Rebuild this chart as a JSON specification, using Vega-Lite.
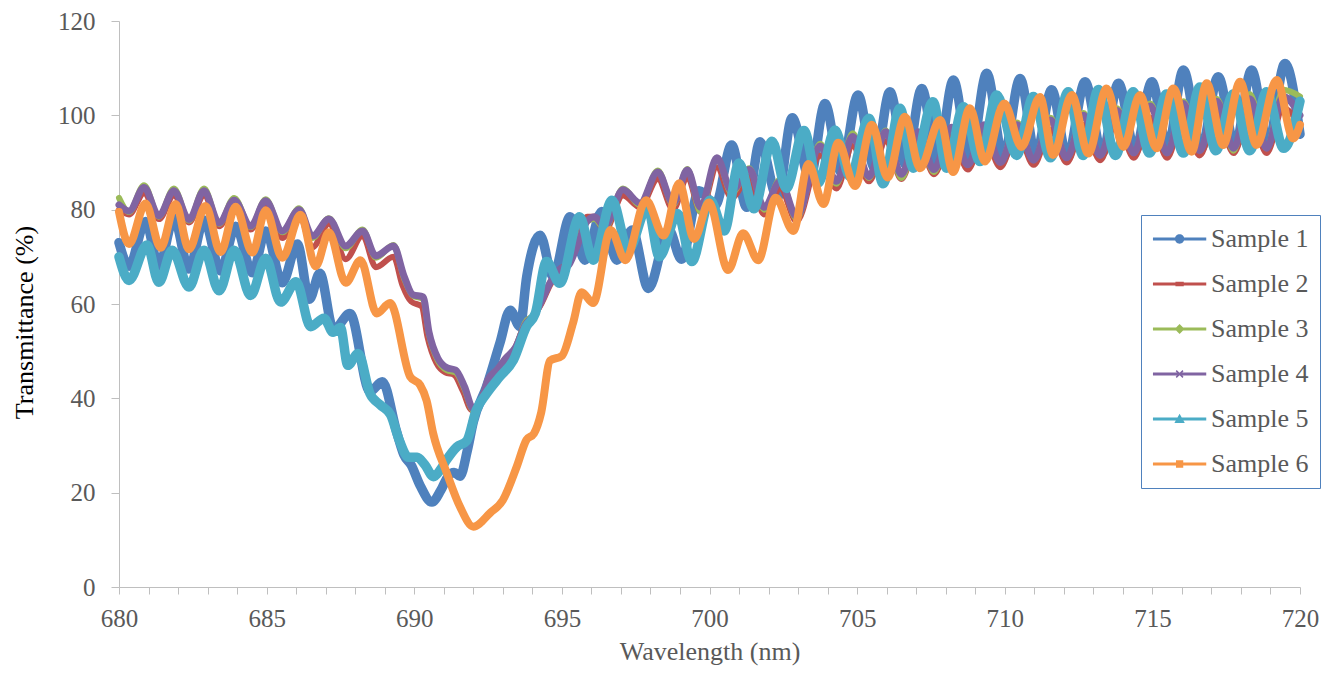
{
"$schema": "https://vega.github.io/schema/vega-lite/v6.json",
"width": 1181, "height": 566, "autosize": "none",
"padding": {"left": 119, "top": 21, "right": 34, "bottom": 88},
"background": "white",
"config": {"view": {"stroke": null},
 "axis": {"labelFont": "Liberation Serif", "titleFont": "Liberation Serif", "labelColor": "#595959", "titleColor": "#595959", "labelFontSize": 25, "titleFontSize": 26, "titleFontWeight": "normal", "domainColor": "#BFBFBF", "tickColor": "#BFBFBF", "grid": false},
 "legend": {"labelFont": "Liberation Serif", "labelFontSize": 26, "labelColor": "#595959"}},
"data": {"values": [
{"s":"Sample 1","w":680,"t":73},{"s":"Sample 1","w":680.34,"t":68},{"s":"Sample 1","w":680.9,"t":77.5},{"s":"Sample 1","w":681.35,"t":68},{"s":"Sample 1","w":681.86,"t":78.2},{"s":"Sample 1","w":682.37,"t":67.4},{"s":"Sample 1","w":682.88,"t":77.8},{"s":"Sample 1","w":683.44,"t":67},{"s":"Sample 1","w":683.95,"t":76.5},{"s":"Sample 1","w":684.52,"t":66.6},{"s":"Sample 1","w":684.97,"t":75.5},{"s":"Sample 1","w":685.53,"t":64.5},{"s":"Sample 1","w":686.04,"t":72.7},{"s":"Sample 1","w":686.45,"t":61},{"s":"Sample 1","w":686.8,"t":66.5},{"s":"Sample 1","w":687.27,"t":54.5},{"s":"Sample 1","w":687.82,"t":58},{"s":"Sample 1","w":688.5,"t":41.5},{"s":"Sample 1","w":688.92,"t":43.5},{"s":"Sample 1","w":689.4,"t":33},{"s":"Sample 1","w":689.65,"t":28},{"s":"Sample 1","w":689.9,"t":25.8},{"s":"Sample 1","w":690.2,"t":21.5},{"s":"Sample 1","w":690.6,"t":18},{"s":"Sample 1","w":690.9,"t":20.5},{"s":"Sample 1","w":691.15,"t":23.5},{"s":"Sample 1","w":691.35,"t":24.3},{"s":"Sample 1","w":691.55,"t":23.5},{"s":"Sample 1","w":691.8,"t":29},{"s":"Sample 1","w":692.0,"t":35},{"s":"Sample 1","w":692.45,"t":42.5},{"s":"Sample 1","w":692.9,"t":51.7},{"s":"Sample 1","w":693.25,"t":58.7},{"s":"Sample 1","w":693.58,"t":55.2},{"s":"Sample 1","w":693.81,"t":65.8},{"s":"Sample 1","w":694.26,"t":74.6},{"s":"Sample 1","w":694.7,"t":65.8},{"s":"Sample 1","w":695.28,"t":78.5},{"s":"Sample 1","w":695.78,"t":69.3},{"s":"Sample 1","w":696.35,"t":79.6},{"s":"Sample 1","w":696.86,"t":69.3},{"s":"Sample 1","w":697.38,"t":75.7},{"s":"Sample 1","w":697.93,"t":63.3},{"s":"Sample 1","w":698.62,"t":75.7},{"s":"Sample 1","w":699.05,"t":69.5},{"s":"Sample 1","w":699.65,"t":84},{"s":"Sample 1","w":700.2,"t":81},{"s":"Sample 1","w":700.75,"t":93.7},{"s":"Sample 1","w":701.26,"t":80.5},{"s":"Sample 1","w":701.71,"t":94.4},{"s":"Sample 1","w":702.3,"t":82.5},{"s":"Sample 1","w":702.8,"t":99.5},{"s":"Sample 1","w":703.4,"t":86.5},{"s":"Sample 1","w":703.91,"t":102.5},{"s":"Sample 1","w":704.45,"t":88},{"s":"Sample 1","w":705.03,"t":104.3},{"s":"Sample 1","w":705.58,"t":89},{"s":"Sample 1","w":706.11,"t":105},{"s":"Sample 1","w":706.65,"t":89.5},{"s":"Sample 1","w":707.19,"t":105.7},{"s":"Sample 1","w":707.72,"t":90},{"s":"Sample 1","w":708.26,"t":107.5},{"s":"Sample 1","w":708.82,"t":90.5},{"s":"Sample 1","w":709.39,"t":108.9},{"s":"Sample 1","w":709.95,"t":91},{"s":"Sample 1","w":710.52,"t":107.8},{"s":"Sample 1","w":711.05,"t":91.5},{"s":"Sample 1","w":711.59,"t":105.4},{"s":"Sample 1","w":712.12,"t":91},{"s":"Sample 1","w":712.72,"t":107.1},{"s":"Sample 1","w":713.3,"t":92},{"s":"Sample 1","w":713.85,"t":106.8},{"s":"Sample 1","w":714.42,"t":92.5},{"s":"Sample 1","w":714.98,"t":107.1},{"s":"Sample 1","w":715.52,"t":93},{"s":"Sample 1","w":716.05,"t":109.6},{"s":"Sample 1","w":716.65,"t":93},{"s":"Sample 1","w":717.23,"t":108.2},{"s":"Sample 1","w":717.8,"t":93.5},{"s":"Sample 1","w":718.36,"t":109.6},{"s":"Sample 1","w":718.92,"t":94},{"s":"Sample 1","w":719.49,"t":111},{"s":"Sample 1","w":720,"t":96},

{"s":"Sample 2","w":680,"t":80},{"s":"Sample 2","w":680.34,"t":79},{"s":"Sample 2","w":680.85,"t":83.5},{"s":"Sample 2","w":681.35,"t":78},{"s":"Sample 2","w":681.86,"t":83},{"s":"Sample 2","w":682.37,"t":77.3},{"s":"Sample 2","w":682.88,"t":83},{"s":"Sample 2","w":683.39,"t":76.5},{"s":"Sample 2","w":683.9,"t":81},{"s":"Sample 2","w":684.46,"t":75.8},{"s":"Sample 2","w":684.97,"t":80.8},{"s":"Sample 2","w":685.53,"t":74},{"s":"Sample 2","w":686.1,"t":79},{"s":"Sample 2","w":686.55,"t":72},{"s":"Sample 2","w":687.11,"t":77},{"s":"Sample 2","w":687.68,"t":69.5},{"s":"Sample 2","w":688.25,"t":74.5},{"s":"Sample 2","w":688.7,"t":67.8},{"s":"Sample 2","w":689.3,"t":70},{"s":"Sample 2","w":689.6,"t":64},{"s":"Sample 2","w":689.9,"t":60.5},{"s":"Sample 2","w":690.25,"t":59.5},{"s":"Sample 2","w":690.45,"t":53},{"s":"Sample 2","w":690.75,"t":47.5},{"s":"Sample 2","w":691.05,"t":45.5},{"s":"Sample 2","w":691.35,"t":45},{"s":"Sample 2","w":691.65,"t":41.5},{"s":"Sample 2","w":691.95,"t":37.5},{"s":"Sample 2","w":692.25,"t":39.5},{"s":"Sample 2","w":692.45,"t":43},{"s":"Sample 2","w":692.75,"t":45.5},{"s":"Sample 2","w":693.05,"t":48},{"s":"Sample 2","w":693.4,"t":50.5},{"s":"Sample 2","w":693.7,"t":55},{"s":"Sample 2","w":694.05,"t":57.5},{"s":"Sample 2","w":694.3,"t":60},{"s":"Sample 2","w":694.6,"t":64},{"s":"Sample 2","w":694.95,"t":67.5},{"s":"Sample 2","w":695.2,"t":68.5},{"s":"Sample 2","w":695.5,"t":72.5},{"s":"Sample 2","w":695.85,"t":78.5},{"s":"Sample 2","w":696.1,"t":78.5},{"s":"Sample 2","w":696.45,"t":75.5},{"s":"Sample 2","w":697.07,"t":83},{"s":"Sample 2","w":697.65,"t":80.5},{"s":"Sample 2","w":698.25,"t":86.5},{"s":"Sample 2","w":698.77,"t":80},{"s":"Sample 2","w":699.25,"t":87},{"s":"Sample 2","w":699.7,"t":79.5},{"s":"Sample 2","w":700.25,"t":89},{"s":"Sample 2","w":700.75,"t":82.5},{"s":"Sample 2","w":701.35,"t":87},{"s":"Sample 2","w":701.85,"t":79},{"s":"Sample 2","w":702.4,"t":84.5},{"s":"Sample 2","w":702.95,"t":77.5},{"s":"Sample 2","w":703.75,"t":91.5},{"s":"Sample 2","w":704.3,"t":84.5},{"s":"Sample 2","w":704.85,"t":93.5},{"s":"Sample 2","w":705.4,"t":86},{"s":"Sample 2","w":705.97,"t":94.5},{"s":"Sample 2","w":706.5,"t":86.5},{"s":"Sample 2","w":707.07,"t":95},{"s":"Sample 2","w":707.6,"t":87.5},{"s":"Sample 2","w":708.2,"t":95.5},{"s":"Sample 2","w":708.75,"t":88.5},{"s":"Sample 2","w":709.3,"t":96},{"s":"Sample 2","w":709.85,"t":89},{"s":"Sample 2","w":710.42,"t":96.5},{"s":"Sample 2","w":710.98,"t":89.5},{"s":"Sample 2","w":711.55,"t":97},{"s":"Sample 2","w":712.1,"t":90},{"s":"Sample 2","w":712.67,"t":98},{"s":"Sample 2","w":713.23,"t":90.5},{"s":"Sample 2","w":713.8,"t":99},{"s":"Sample 2","w":714.37,"t":91},{"s":"Sample 2","w":714.93,"t":99.5},{"s":"Sample 2","w":715.5,"t":91},{"s":"Sample 2","w":716.05,"t":100},{"s":"Sample 2","w":716.6,"t":91.5},{"s":"Sample 2","w":717.18,"t":100.5},{"s":"Sample 2","w":717.75,"t":92},{"s":"Sample 2","w":718.3,"t":101},{"s":"Sample 2","w":718.87,"t":92},{"s":"Sample 2","w":719.43,"t":101.5},{"s":"Sample 2","w":720,"t":98},

{"s":"Sample 3","w":680,"t":82.5},{"s":"Sample 3","w":680.34,"t":79.5},{"s":"Sample 3","w":680.85,"t":85.2},{"s":"Sample 3","w":681.35,"t":78.5},{"s":"Sample 3","w":681.86,"t":84.5},{"s":"Sample 3","w":682.37,"t":77.7},{"s":"Sample 3","w":682.88,"t":84.5},{"s":"Sample 3","w":683.39,"t":77},{"s":"Sample 3","w":683.9,"t":82.5},{"s":"Sample 3","w":684.46,"t":76.3},{"s":"Sample 3","w":684.97,"t":82.2},{"s":"Sample 3","w":685.53,"t":75.2},{"s":"Sample 3","w":686.1,"t":80.3},{"s":"Sample 3","w":686.55,"t":74},{"s":"Sample 3","w":687.11,"t":78.2},{"s":"Sample 3","w":687.68,"t":71.8},{"s":"Sample 3","w":688.25,"t":75.8},{"s":"Sample 3","w":688.7,"t":69.8},{"s":"Sample 3","w":689.3,"t":72.5},{"s":"Sample 3","w":689.65,"t":65.5},{"s":"Sample 3","w":689.95,"t":61.8},{"s":"Sample 3","w":690.3,"t":61},{"s":"Sample 3","w":690.5,"t":53.5},{"s":"Sample 3","w":690.8,"t":48},{"s":"Sample 3","w":691.1,"t":46},{"s":"Sample 3","w":691.4,"t":45.5},{"s":"Sample 3","w":691.7,"t":42},{"s":"Sample 3","w":692.0,"t":37.5},{"s":"Sample 3","w":692.3,"t":40},{"s":"Sample 3","w":692.5,"t":44},{"s":"Sample 3","w":692.8,"t":46},{"s":"Sample 3","w":693.1,"t":48.5},{"s":"Sample 3","w":693.45,"t":51},{"s":"Sample 3","w":693.75,"t":56},{"s":"Sample 3","w":694.1,"t":58},{"s":"Sample 3","w":694.3,"t":60.5},{"s":"Sample 3","w":694.6,"t":64.5},{"s":"Sample 3","w":694.95,"t":67},{"s":"Sample 3","w":695.2,"t":68.5},{"s":"Sample 3","w":695.5,"t":72.5},{"s":"Sample 3","w":695.85,"t":77.5},{"s":"Sample 3","w":696.1,"t":78},{"s":"Sample 3","w":696.45,"t":76},{"s":"Sample 3","w":697.07,"t":84.5},{"s":"Sample 3","w":697.65,"t":81},{"s":"Sample 3","w":698.25,"t":88.3},{"s":"Sample 3","w":698.77,"t":81},{"s":"Sample 3","w":699.25,"t":88.6},{"s":"Sample 3","w":699.7,"t":79.5},{"s":"Sample 3","w":700.25,"t":91},{"s":"Sample 3","w":700.75,"t":83.5},{"s":"Sample 3","w":701.35,"t":88.8},{"s":"Sample 3","w":701.85,"t":80},{"s":"Sample 3","w":702.4,"t":86.5},{"s":"Sample 3","w":702.95,"t":78},{"s":"Sample 3","w":703.75,"t":94},{"s":"Sample 3","w":704.3,"t":85.5},{"s":"Sample 3","w":704.85,"t":96.2},{"s":"Sample 3","w":705.4,"t":86.7},{"s":"Sample 3","w":705.97,"t":96.8},{"s":"Sample 3","w":706.5,"t":86.7},{"s":"Sample 3","w":707.07,"t":96.5},{"s":"Sample 3","w":707.6,"t":88},{"s":"Sample 3","w":708.2,"t":97.5},{"s":"Sample 3","w":708.75,"t":89.5},{"s":"Sample 3","w":709.3,"t":97.8},{"s":"Sample 3","w":709.85,"t":90},{"s":"Sample 3","w":710.42,"t":98.5},{"s":"Sample 3","w":710.98,"t":90.5},{"s":"Sample 3","w":711.55,"t":99.5},{"s":"Sample 3","w":712.1,"t":91},{"s":"Sample 3","w":712.67,"t":100.5},{"s":"Sample 3","w":713.23,"t":91.5},{"s":"Sample 3","w":713.8,"t":101.5},{"s":"Sample 3","w":714.37,"t":92},{"s":"Sample 3","w":714.93,"t":102.5},{"s":"Sample 3","w":715.5,"t":92},{"s":"Sample 3","w":716.05,"t":103},{"s":"Sample 3","w":716.6,"t":92.5},{"s":"Sample 3","w":717.18,"t":103.5},{"s":"Sample 3","w":717.75,"t":92.5},{"s":"Sample 3","w":718.3,"t":104.5},{"s":"Sample 3","w":718.87,"t":93},{"s":"Sample 3","w":719.43,"t":105.4},{"s":"Sample 3","w":720,"t":104},

{"s":"Sample 4","w":680,"t":81},{"s":"Sample 4","w":680.34,"t":79.7},{"s":"Sample 4","w":680.85,"t":84.7},{"s":"Sample 4","w":681.35,"t":78.7},{"s":"Sample 4","w":681.86,"t":84},{"s":"Sample 4","w":682.37,"t":77.9},{"s":"Sample 4","w":682.88,"t":84},{"s":"Sample 4","w":683.39,"t":77.2},{"s":"Sample 4","w":683.9,"t":82},{"s":"Sample 4","w":684.46,"t":76.5},{"s":"Sample 4","w":684.97,"t":81.9},{"s":"Sample 4","w":685.53,"t":75.5},{"s":"Sample 4","w":686.1,"t":80},{"s":"Sample 4","w":686.55,"t":74.4},{"s":"Sample 4","w":687.11,"t":78},{"s":"Sample 4","w":687.68,"t":72.3},{"s":"Sample 4","w":688.25,"t":75.5},{"s":"Sample 4","w":688.7,"t":70.2},{"s":"Sample 4","w":689.3,"t":72.3},{"s":"Sample 4","w":689.65,"t":66},{"s":"Sample 4","w":689.95,"t":62},{"s":"Sample 4","w":690.3,"t":61.5},{"s":"Sample 4","w":690.5,"t":54},{"s":"Sample 4","w":690.8,"t":48.5},{"s":"Sample 4","w":691.1,"t":46.5},{"s":"Sample 4","w":691.4,"t":46},{"s":"Sample 4","w":691.7,"t":42.5},{"s":"Sample 4","w":692.0,"t":37.8},{"s":"Sample 4","w":692.3,"t":40},{"s":"Sample 4","w":692.5,"t":44},{"s":"Sample 4","w":692.8,"t":46},{"s":"Sample 4","w":693.1,"t":48.5},{"s":"Sample 4","w":693.45,"t":51},{"s":"Sample 4","w":693.75,"t":55.5},{"s":"Sample 4","w":694.1,"t":58},{"s":"Sample 4","w":694.3,"t":60.5},{"s":"Sample 4","w":694.6,"t":64.5},{"s":"Sample 4","w":694.95,"t":67.5},{"s":"Sample 4","w":695.2,"t":68},{"s":"Sample 4","w":695.5,"t":72},{"s":"Sample 4","w":695.85,"t":77.5},{"s":"Sample 4","w":696.1,"t":78.5},{"s":"Sample 4","w":696.45,"t":76.5},{"s":"Sample 4","w":697.07,"t":84.2},{"s":"Sample 4","w":697.65,"t":81.4},{"s":"Sample 4","w":698.25,"t":88},{"s":"Sample 4","w":698.77,"t":81.4},{"s":"Sample 4","w":699.25,"t":88.4},{"s":"Sample 4","w":699.7,"t":80.5},{"s":"Sample 4","w":700.25,"t":91},{"s":"Sample 4","w":700.75,"t":84},{"s":"Sample 4","w":701.35,"t":88.5},{"s":"Sample 4","w":701.85,"t":80.5},{"s":"Sample 4","w":702.4,"t":86},{"s":"Sample 4","w":702.95,"t":78.5},{"s":"Sample 4","w":703.75,"t":93.5},{"s":"Sample 4","w":704.3,"t":86},{"s":"Sample 4","w":704.85,"t":95.5},{"s":"Sample 4","w":705.4,"t":87},{"s":"Sample 4","w":705.97,"t":96.5},{"s":"Sample 4","w":706.5,"t":87.5},{"s":"Sample 4","w":707.07,"t":96.5},{"s":"Sample 4","w":707.6,"t":88.5},{"s":"Sample 4","w":708.2,"t":97.5},{"s":"Sample 4","w":708.75,"t":89.5},{"s":"Sample 4","w":709.3,"t":98},{"s":"Sample 4","w":709.85,"t":90},{"s":"Sample 4","w":710.42,"t":98},{"s":"Sample 4","w":710.98,"t":90.5},{"s":"Sample 4","w":711.55,"t":99},{"s":"Sample 4","w":712.1,"t":91},{"s":"Sample 4","w":712.67,"t":100},{"s":"Sample 4","w":713.23,"t":91.5},{"s":"Sample 4","w":713.8,"t":101},{"s":"Sample 4","w":714.37,"t":92},{"s":"Sample 4","w":714.93,"t":102},{"s":"Sample 4","w":715.5,"t":92},{"s":"Sample 4","w":716.05,"t":102.5},{"s":"Sample 4","w":716.6,"t":92.5},{"s":"Sample 4","w":717.18,"t":103},{"s":"Sample 4","w":717.75,"t":93},{"s":"Sample 4","w":718.3,"t":103.5},{"s":"Sample 4","w":718.87,"t":93},{"s":"Sample 4","w":719.43,"t":104},{"s":"Sample 4","w":720,"t":100},

{"s":"Sample 5","w":680,"t":70},{"s":"Sample 5","w":680.34,"t":65},{"s":"Sample 5","w":680.95,"t":72.5},{"s":"Sample 5","w":681.35,"t":64.6},{"s":"Sample 5","w":681.8,"t":71.4},{"s":"Sample 5","w":682.37,"t":63.6},{"s":"Sample 5","w":682.88,"t":71.4},{"s":"Sample 5","w":683.39,"t":62.8},{"s":"Sample 5","w":683.9,"t":71.4},{"s":"Sample 5","w":684.46,"t":61.8},{"s":"Sample 5","w":684.97,"t":69.7},{"s":"Sample 5","w":685.47,"t":60.4},{"s":"Sample 5","w":686.0,"t":64.7},{"s":"Sample 5","w":686.49,"t":55.2},{"s":"Sample 5","w":686.94,"t":57},{"s":"Sample 5","w":687.25,"t":54},{"s":"Sample 5","w":687.5,"t":55},{"s":"Sample 5","w":687.75,"t":47},{"s":"Sample 5","w":688.1,"t":49.5},{"s":"Sample 5","w":688.5,"t":41},{"s":"Sample 5","w":688.85,"t":38.6},{"s":"Sample 5","w":689.2,"t":36.5},{"s":"Sample 5","w":689.5,"t":31},{"s":"Sample 5","w":689.8,"t":27.5},{"s":"Sample 5","w":690.1,"t":27.5},{"s":"Sample 5","w":690.35,"t":26},{"s":"Sample 5","w":690.65,"t":23.4},{"s":"Sample 5","w":690.9,"t":25},{"s":"Sample 5","w":691.1,"t":27},{"s":"Sample 5","w":691.44,"t":29.7},{"s":"Sample 5","w":691.78,"t":31},{"s":"Sample 5","w":692.1,"t":37.5},{"s":"Sample 5","w":692.45,"t":41},{"s":"Sample 5","w":692.9,"t":44.6},{"s":"Sample 5","w":693.36,"t":48.1},{"s":"Sample 5","w":693.8,"t":55.2},{"s":"Sample 5","w":694.1,"t":58},{"s":"Sample 5","w":694.48,"t":69},{"s":"Sample 5","w":694.93,"t":64.4},{"s":"Sample 5","w":695.6,"t":78.5},{"s":"Sample 5","w":696.06,"t":69.3},{"s":"Sample 5","w":696.7,"t":82},{"s":"Sample 5","w":697.25,"t":71.5},{"s":"Sample 5","w":697.9,"t":80.5},{"s":"Sample 5","w":698.3,"t":70},{"s":"Sample 5","w":698.92,"t":79.2},{"s":"Sample 5","w":699.4,"t":69},{"s":"Sample 5","w":700.02,"t":82},{"s":"Sample 5","w":700.5,"t":75.5},{"s":"Sample 5","w":701.0,"t":89.9},{"s":"Sample 5","w":701.5,"t":80.2},{"s":"Sample 5","w":702.12,"t":94.5},{"s":"Sample 5","w":702.6,"t":84.5},{"s":"Sample 5","w":703.2,"t":96.8},{"s":"Sample 5","w":703.68,"t":85.6},{"s":"Sample 5","w":704.25,"t":96.9},{"s":"Sample 5","w":704.76,"t":87},{"s":"Sample 5","w":705.4,"t":99.4},{"s":"Sample 5","w":705.88,"t":85.5},{"s":"Sample 5","w":706.45,"t":101.5},{"s":"Sample 5","w":706.9,"t":88.8},{"s":"Sample 5","w":707.57,"t":102.9},{"s":"Sample 5","w":708.03,"t":88.8},{"s":"Sample 5","w":708.6,"t":101.8},{"s":"Sample 5","w":709.16,"t":90.2},{"s":"Sample 5","w":709.73,"t":104.3},{"s":"Sample 5","w":710.4,"t":91.5},{"s":"Sample 5","w":710.97,"t":104},{"s":"Sample 5","w":711.55,"t":91},{"s":"Sample 5","w":712.15,"t":105},{"s":"Sample 5","w":712.65,"t":91.5},{"s":"Sample 5","w":713.17,"t":105.5},{"s":"Sample 5","w":713.75,"t":91.5},{"s":"Sample 5","w":714.35,"t":105},{"s":"Sample 5","w":714.9,"t":92},{"s":"Sample 5","w":715.48,"t":104.5},{"s":"Sample 5","w":716.05,"t":92},{"s":"Sample 5","w":716.61,"t":106},{"s":"Sample 5","w":717.15,"t":92.5},{"s":"Sample 5","w":717.74,"t":104.5},{"s":"Sample 5","w":718.3,"t":92.5},{"s":"Sample 5","w":718.87,"t":105},{"s":"Sample 5","w":719.45,"t":93},{"s":"Sample 5","w":720,"t":103},

{"s":"Sample 6","w":680,"t":79.5},{"s":"Sample 6","w":680.34,"t":72.7},{"s":"Sample 6","w":680.9,"t":81.3},{"s":"Sample 6","w":681.41,"t":71.9},{"s":"Sample 6","w":681.92,"t":81.2},{"s":"Sample 6","w":682.37,"t":71.6},{"s":"Sample 6","w":682.93,"t":80.8},{"s":"Sample 6","w":683.44,"t":71},{"s":"Sample 6","w":683.95,"t":80.6},{"s":"Sample 6","w":684.52,"t":70.9},{"s":"Sample 6","w":684.97,"t":79.9},{"s":"Sample 6","w":685.53,"t":69.8},{"s":"Sample 6","w":686.15,"t":78.9},{"s":"Sample 6","w":686.66,"t":68},{"s":"Sample 6","w":687.11,"t":75.2},{"s":"Sample 6","w":687.68,"t":64.5},{"s":"Sample 6","w":688.18,"t":69.3},{"s":"Sample 6","w":688.73,"t":58},{"s":"Sample 6","w":689.18,"t":60.2},{"s":"Sample 6","w":689.86,"t":44.6},{"s":"Sample 6","w":690.2,"t":42.8},{"s":"Sample 6","w":690.42,"t":39.5},{"s":"Sample 6","w":690.64,"t":32.6},{"s":"Sample 6","w":691.1,"t":24.2},{"s":"Sample 6","w":691.55,"t":17},{"s":"Sample 6","w":692.0,"t":12.8},{"s":"Sample 6","w":692.57,"t":15.7},{"s":"Sample 6","w":693.0,"t":18.4},{"s":"Sample 6","w":693.47,"t":25.5},{"s":"Sample 6","w":693.8,"t":31.2},{"s":"Sample 6","w":694.05,"t":32.5},{"s":"Sample 6","w":694.3,"t":37},{"s":"Sample 6","w":694.6,"t":48},{"s":"Sample 6","w":695.0,"t":49},{"s":"Sample 6","w":695.38,"t":56},{"s":"Sample 6","w":695.67,"t":62.5},{"s":"Sample 6","w":696.06,"t":60.2},{"s":"Sample 6","w":696.65,"t":75.7},{"s":"Sample 6","w":697.15,"t":69.3},{"s":"Sample 6","w":697.85,"t":82},{"s":"Sample 6","w":698.45,"t":74.5},{"s":"Sample 6","w":698.97,"t":85.6},{"s":"Sample 6","w":699.48,"t":73.8},{"s":"Sample 6","w":699.98,"t":81.5},{"s":"Sample 6","w":700.63,"t":67.2},{"s":"Sample 6","w":701.14,"t":75},{"s":"Sample 6","w":701.65,"t":69.3},{"s":"Sample 6","w":702.24,"t":82.5},{"s":"Sample 6","w":702.84,"t":75.5},{"s":"Sample 6","w":703.35,"t":89.7},{"s":"Sample 6","w":703.86,"t":81.2},{"s":"Sample 6","w":704.36,"t":94.2},{"s":"Sample 6","w":704.93,"t":85},{"s":"Sample 6","w":705.5,"t":98},{"s":"Sample 6","w":706.03,"t":86.8},{"s":"Sample 6","w":706.62,"t":99.7},{"s":"Sample 6","w":707.13,"t":88.8},{"s":"Sample 6","w":707.81,"t":99},{"s":"Sample 6","w":708.25,"t":88},{"s":"Sample 6","w":708.82,"t":101.5},{"s":"Sample 6","w":709.33,"t":90.2},{"s":"Sample 6","w":709.98,"t":102.5},{"s":"Sample 6","w":710.57,"t":93.3},{"s":"Sample 6","w":711.19,"t":103.9},{"s":"Sample 6","w":711.64,"t":91.6},{"s":"Sample 6","w":712.27,"t":104.3},{"s":"Sample 6","w":712.83,"t":91.9},{"s":"Sample 6","w":713.45,"t":105.7},{"s":"Sample 6","w":714.02,"t":93.3},{"s":"Sample 6","w":714.58,"t":104.3},{"s":"Sample 6","w":715.14,"t":93},{"s":"Sample 6","w":715.71,"t":105.7},{"s":"Sample 6","w":716.33,"t":92.3},{"s":"Sample 6","w":716.84,"t":106.8},{"s":"Sample 6","w":717.4,"t":93.7},{"s":"Sample 6","w":717.97,"t":107.1},{"s":"Sample 6","w":718.53,"t":93.7},{"s":"Sample 6","w":719.21,"t":107.5},{"s":"Sample 6","w":719.77,"t":95.1},{"s":"Sample 6","w":720,"t":98}
]},
"encoding": {
 "x": {"field": "w", "type": "quantitative", "scale": {"domain": [680, 720], "nice": false, "zero": false},
  "axis": {"title": "Wavelength (nm)", "values": [680,681,682,683,684,685,686,687,688,689,690,691,692,693,694,695,696,697,698,699,700,701,702,703,704,705,706,707,708,709,710,711,712,713,714,715,716,717,718,719,720], "labelExpr": "datum.value % 5 === 0 ? datum.label : ''", "labelOverlap": false, "labelFlush": false, "tickSize": 7, "labelPadding": 12, "titlePadding": 7}},
 "y": {"field": "t", "type": "quantitative", "scale": {"domain": [0, 120], "nice": false},
  "axis": {"title": "Transmittance (%)", "values": [0,20,40,60,80,100,120], "tickSize": 8, "labelPadding": 16, "titlePadding": 20, "titleY": 301, "titleColor": "#000000"}}
},
"layer": [
 {"transform": [{"filter": "datum.s === 'Sample 1'"}], "mark": {"type": "line", "color": "#4F81BD", "interpolate": "monotone", "strokeWidth": 9.5, "strokeJoin": "round", "strokeCap": "round"}},
 {"transform": [{"filter": "datum.s === 'Sample 2'"}], "mark": {"type": "line", "color": "#C0504D", "interpolate": "monotone", "strokeWidth": 6, "strokeJoin": "round", "strokeCap": "round"}},
 {"transform": [{"filter": "datum.s === 'Sample 3'"}], "mark": {"type": "line", "color": "#9BBB59", "interpolate": "monotone", "strokeWidth": 6, "strokeJoin": "round", "strokeCap": "round"}},
 {"transform": [{"filter": "datum.s === 'Sample 4'"}], "mark": {"type": "line", "color": "#8064A2", "interpolate": "monotone", "strokeWidth": 7, "strokeJoin": "round", "strokeCap": "round"}},
 {"transform": [{"filter": "datum.s === 'Sample 5'"}], "mark": {"type": "line", "color": "#4BACC6", "interpolate": "monotone", "strokeWidth": 9.5, "strokeJoin": "round", "strokeCap": "round"}},
 {"transform": [{"filter": "datum.s === 'Sample 6'"}], "mark": {"type": "line", "color": "#F79646", "interpolate": "monotone", "strokeWidth": 8, "strokeJoin": "round", "strokeCap": "round"}},
 {"transform": [{"filter": "datum.t > 1000"}], "mark": {"type": "point", "filled": true, "opacity": 1, "size": 676, "strokeWidth": 0},
  "encoding": {
   "color": {"field": "s", "type": "nominal", "scale": {"domain": ["Sample 1","Sample 2","Sample 3","Sample 4","Sample 5","Sample 6"], "range": ["#4F81BD","#C0504D","#9BBB59","#8064A2","#4BACC6","#F79646"]},
     "legend": {"title": null, "orient": "none", "legendX": 1022, "legendY": 194, "padding": 11, "rowPadding": 19, "symbolOffset": 14.6, "labelOffset": 18.4, "symbolSize": 676, "symbolStrokeWidth": 0, "labelFont": "Liberation Serif", "labelFontSize": 26, "labelColor": "#595959", "strokeColor": "#4F81BD", "fillColor": "white", "labelLimit": 300}},
   "shape": {"field": "s", "type": "nominal", "scale": {"domain": ["Sample 1","Sample 2","Sample 3","Sample 4","Sample 5","Sample 6"], "range": [
     "M-2.05,-0.12H2.05V0.12H-2.05Z M0.36,0A0.36,0.36,0,1,1,-0.36,0A0.36,0.36,0,1,1,0.36,0Z",
     "M-2.05,-0.12H2.05V0.12H-2.05Z M-0.32,-0.17H0.32V0.17H-0.32Z",
     "M-2.05,-0.12H2.05V0.12H-2.05Z M0,-0.38L0.38,0L0,0.38L-0.38,0Z",
     "M-2.05,-0.12H2.05V0.12H-2.05Z M-0.3,-0.22L-0.22,-0.3L0.3,0.22L0.22,0.3Z M0.22,-0.3L0.3,-0.22L-0.22,0.3L-0.3,0.22Z",
     "M-2.05,-0.12H2.05V0.12H-2.05Z M0,-0.4L0.4,0.3L-0.4,0.3Z",
     "M-2.05,-0.12H2.05V0.12H-2.05Z M-0.28,-0.28H0.28V0.28H-0.28Z"]},
     "legend": {"title": null, "orient": "none", "legendX": 1022, "legendY": 194, "padding": 11, "rowPadding": 19, "symbolOffset": 14.6, "labelOffset": 18.4, "symbolSize": 676, "symbolStrokeWidth": 0, "labelFont": "Liberation Serif", "labelFontSize": 26, "labelColor": "#595959", "strokeColor": "#4F81BD", "fillColor": "white", "labelLimit": 300}}
  }}
]
}
